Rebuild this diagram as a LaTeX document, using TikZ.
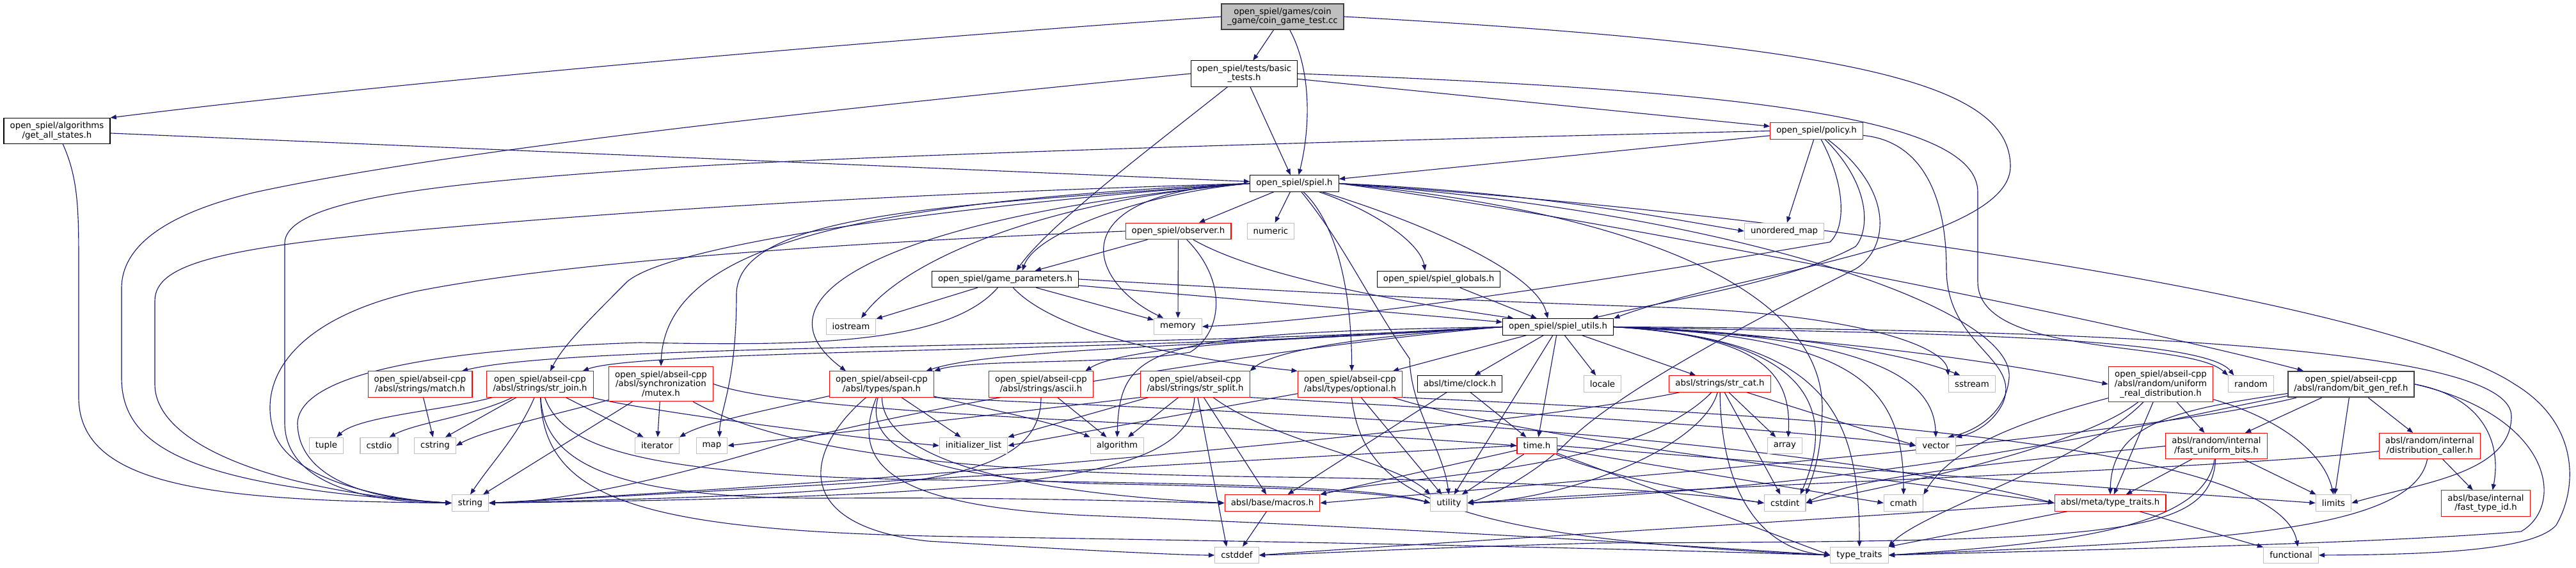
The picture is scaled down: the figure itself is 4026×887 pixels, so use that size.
\documentclass[tikz,border=0pt]{standalone}
\usepackage{fontspec}
\setmainfont{DejaVu Sans}
\usetikzlibrary{arrows.meta,backgrounds}
\definecolor{edgeblue}{HTML}{191970}
\definecolor{sysgrey}{HTML}{BFBFBF}
\definecolor{darkframe}{HTML}{404040}
\definecolor{trunc}{HTML}{FF0000}

\begin{document}
\begin{tikzpicture}[x=0.75pt,y=-0.75pt,
  file/.style={draw=black,fill=white,line width=0.8pt,font=\fontsize{10}{11}\selectfont,
    align=center,inner xsep=7.2pt,inner ysep=1pt,minimum height=19.1pt},
  lines2/.style={minimum height=30.1pt},
  lines3/.style={minimum height=40.9pt},
  sys/.style={file,draw=sysgrey},
  cut/.style={file,draw=trunc},
  root/.style={file,draw=darkframe,fill=sysgrey,line width=1.3pt},
  dep/.style={edgeblue,line width=0.85pt,-{Triangle[length=7pt,width=5.4pt]}}]
  \useasboundingbox (0,0) rectangle (4026,887);

  % Test file and open_spiel headers
  \node[root,lines2] (test) at (2004.5,26) {open\_spiel/games/coin\\\_game/coin\_game\_test.cc};
  \node[file,lines2] (basictests) at (1944.5,115) {open\_spiel/tests/basic\\\_tests.h};
  \node[file,lines2] (allstates) at (89,204.5) {open\_spiel/algorithms\\/get\_all\_states.h};
  \node[cut] (policy) at (2839,204.5) {open\_spiel/policy.h};
  \node[file] (spiel) at (2023,286.5) {open\_spiel/spiel.h};
  \node[cut] (observer) at (1841.5,361) {open\_spiel/observer.h};
  \node[sys] (numeric) at (1986,361) {numeric};
  \node[sys] (unorderedmap) at (2788.6,361) {unordered\_map};
  \node[file] (gameparams) at (1571,436) {open\_spiel/game\_parameters.h};
  \node[file] (globals) at (2248.6,436) {open\_spiel/spiel\_globals.h};
  \node[sys] (iostream) at (1330,510) {iostream};
  \node[sys] (memory) at (1841,510) {memory};
  \node[file] (utils) at (2435,510.5) {open\_spiel/spiel\_utils.h};

  % abseil headers
  \node[cut,lines2] (match) at (656.5,600) {open\_spiel/abseil-cpp\\/absl/strings/match.h};
  \node[cut,lines2] (strjoin) at (844,600) {open\_spiel/abseil-cpp\\/absl/strings/str\_join.h};
  \node[cut,lines3] (mutex) at (1033,599.5) {open\_spiel/abseil-cpp\\/absl/synchronization\\/mutex.h};
  \node[cut,lines2] (span) at (1378,600) {open\_spiel/abseil-cpp\\/absl/types/span.h};
  \node[cut,lines2] (ascii) at (1627,600) {open\_spiel/abseil-cpp\\/absl/strings/ascii.h};
  \node[cut,lines2] (strsplit) at (1868,600) {open\_spiel/abseil-cpp\\/absl/strings/str\_split.h};
  \node[cut,lines2] (optional) at (2110,600) {open\_spiel/abseil-cpp\\/absl/types/optional.h};
  \node[file] (clock) at (2281.6,599.5) {absl/time/clock.h};
  \node[sys] (locale) at (2504.5,599.5) {locale};
  \node[cut] (strcat) at (2688,599.5) {absl/strings/str\_cat.h};
  \node[sys] (sstream) at (3082,599.5) {sstream};
  \node[cut,lines3] (uniformreal) at (3377,600) {open\_spiel/abseil-cpp\\/absl/random/uniform\\\_real\_distribution.h};
  \node[sys] (random) at (3518,599.5) {random};
  \node[file,lines2,draw=darkframe,line width=1.5pt] (bitgenref) at (3674.5,600) {open\_spiel/abseil-cpp\\/absl/random/bit\_gen\_ref.h};

  \node[sys] (tuple) at (510,696) {tuple};
  \node[sys] (cstdio) at (592.5,696) {cstdio};
  \node[sys] (cstring) at (680,696) {cstring};
  \node[sys] (iterator) at (1027,696) {iterator};
  \node[sys] (map) at (1112.5,696) {map};
  \node[sys] (initlist) at (1521.5,696) {initializer\_list};
  \node[sys] (algorithm) at (1746,696) {algorithm};
  \node[cut] (timeh) at (2402,696) {time.h};
  \node[sys] (array) at (2789.4,696) {array};
  \node[sys] (vector) at (3025.5,696) {vector};
  \node[cut,lines2] (fastbits) at (3464,696.6) {absl/random/internal\\/fast\_uniform\_bits.h};
  \node[cut,lines2] (distcaller) at (3797.5,696.6) {absl/random/internal\\/distribution\_caller.h};

  \node[sys] (string) at (735,785.5) {string};
  \node[cut] (macros) at (1988.5,785.5) {absl/base/macros.h};
  \node[sys] (utility) at (2264.4,785.5) {utility};
  \node[sys] (cstdint) at (2789.7,785.5) {cstdint};
  \node[sys] (cmath) at (2975,785.5) {cmath};
  \node[cut] (metatraits) at (3298,785.5) {absl/meta/type\_traits.h};
  \node[sys] (limits) at (3647,785.5) {limits};
  \node[cut,lines2] (fasttypeid) at (3885,786) {absl/base/internal\\/fast\_type\_id.h};

  \node[sys] (cstddef) at (1933,867) {cstddef};
  \node[sys] (typetraits) at (2906,867) {type\_traits};
  \node[sys] (functional) at (3580.5,867) {functional};

  \begin{scope}[on background layer]
  % from the test file
  \draw[dep] (test.west) .. controls (1400,60) and (600,130) .. (allstates.north east);
  \draw[dep] (test) -- (basictests);
  \draw[dep] (test) .. controls (2050,110) and (2048,200) .. ([xshift=5pt]spiel.north);
  \draw[dep] (test.east) .. controls (2900,70) and (3142,130) .. (3142,260) .. controls (3142,380) and (2700,430) .. (utils.north east);

  % get_all_states.h
  \draw[dep] (allstates) -- (spiel);
  \draw[dep] (allstates) .. controls (123,280) and (123,330) .. (123,420) -- (123,620) .. controls (123,760) and (330,782) .. (string.west);

  % basic_tests.h
  \draw[dep] (basictests) -- (spiel);
  \draw[dep] (basictests) .. controls (1800,230) and (1640,350) .. ([xshift=13pt]gameparams.north);
  \draw[dep] (basictests.west) .. controls (1300,170) and (700,235) .. (400,300) .. controls (230,340) and (190,400) .. (190,450) -- (190,590) .. controls (190,700) and (300,760) .. (string.west);
  \draw[dep] (basictests) -- (policy);
  \draw[dep] (basictests.east) .. controls (2700,140) and (3091,180) .. (3091,300) -- (3091,440) .. controls (3091,560) and (3420,530) .. (random.north west);

  % policy.h
  \draw[dep] (policy) -- (spiel);
  \draw[dep] (policy.west) .. controls (2000,222) and (1300,245) .. (1030,263) .. controls (700,285) and (445,310) .. (445,380) -- (445,660) .. controls (445,750) and (560,785) .. (string.west);
  \draw[dep] (policy) -- (unorderedmap);
  \draw[dep] (policy) .. controls (2885,290) and (2885,355) .. (2860,378) .. controls (2500,440) and (2100,500) .. (memory.east);
  \draw[dep] (policy) .. controls (2925,290) and (2922,360) .. (2900,385) .. controls (2800,440) and (2600,470) .. ([xshift=40pt]utils.north);
  \draw[dep] (policy) .. controls (2965,300) and (2950,390) .. (2900,420) .. controls (2700,520) and (2520,620) .. (2450,690) .. controls (2400,740) and (2330,775) .. (utility.east);
  \draw[dep] (policy) .. controls (3000,220) and (3042,300) .. (3042,420) .. controls (3042,540) and (3160,560) .. (3130,630) .. controls (3110,670) and (3070,680) .. (vector.north east);

  % spiel.h
  \draw[dep] (spiel) -- (observer);
  \draw[dep] (spiel) -- (numeric);
  \draw[dep] (spiel.east) .. controls (2400,300) and (2600,340) .. (unorderedmap.west);
  \draw[dep] (spiel.west) .. controls (1800,300) and (1620,360) .. ([xshift=20pt]gameparams.north);
  \draw[dep] (spiel) .. controls (2150,330) and (2220,380) .. ([xshift=-16pt]globals.north);
  \draw[dep] (spiel) .. controls (2200,340) and (2400,420) .. ([xshift=-12pt]utils.north);
  \draw[dep] (spiel.west) .. controls (1650,310) and (1420,400) .. ([xshift=12pt]iostream.north);
  \draw[dep] (spiel.west) .. controls (1650,300) and (1700,440) .. ([xshift=-17pt]memory.north);
  \draw[dep] (spiel.west) .. controls (1500,320) and (1151,330) .. (1151,460) .. controls (1151,600) and (1125,640) .. ([xshift=9pt]map.north);
  \draw[dep] (spiel.west) .. controls (1500,300) and (1100,320) .. (700,355) .. controls (350,385) and (242,410) .. (242,470) -- (242,600) .. controls (242,700) and (450,770) .. (string.west);
  \draw[dep] (spiel.west) .. controls (1500,320) and (1050,380) .. (980,440) .. controls (920,500) and (880,540) .. ([xshift=12pt]strjoin.north);
  \draw[dep] (spiel.west) .. controls (1350,315) and (1040,380) .. (mutex.north);
  \draw[dep] (spiel.west) .. controls (1450,330) and (1150,450) .. ([xshift=-42pt]span.north);
  \draw[dep] (spiel) .. controls (2080,340) and (2112,430) .. ([xshift=2pt]optional.north);
  \draw[dep] (spiel) .. controls (2100,380) and (2140,470) .. (2203,560) .. controls (2205,640) and (2255,700) .. (utility.north);
  \draw[dep] (spiel.east) .. controls (2500,340) and (3300,500) .. ([xshift=-56pt]bitgenref.north);
  \draw[dep] (spiel.east) .. controls (2900,340) and (3750,480) .. (3930,600) .. controls (4030,660) and (4030,760) .. (3995,820) .. controls (3960,860) and (3800,866) .. (functional.east);
  \draw[dep] (spiel.east) .. controls (2700,330) and (3150,480) .. (3140,590) .. controls (3135,650) and (3080,675) .. ([xshift=14pt]vector.north);
  \draw[dep] (spiel.east) .. controls (2550,330) and (2850,450) .. (2848,640) .. controls (2846,720) and (2830,750) .. (cstdint.north east);

  % observer.h
  \draw[dep] (observer.west) .. controls (1400,375) and (900,405) .. (650,455) .. controls (450,500) and (400,600) .. (430,680) .. controls (460,750) and (600,780) .. (string.west);
  \draw[dep] (observer) -- ([xshift=35pt]gameparams.north);
  \draw[dep] (observer) -- (memory);
  \draw[dep] (observer) .. controls (1920,440) and (1910,520) .. (1860,550) .. controls (1750,570) and (1520,560) .. (span.north east);
  \draw[dep] (observer) .. controls (1980,440) and (2250,480) .. ([xshift=-52pt]utils.north);

  % game_parameters.h
  \draw[dep] (gameparams) -- (iostream);
  \draw[dep] (gameparams) -- (memory);
  \draw[dep] (gameparams) -- (utils);
  \draw[dep] (gameparams) .. controls (1640,510) and (1800,555) .. (optional.north west);
  \draw[dep] (gameparams) .. controls (1480,540) and (1250,540) .. (1000,535) .. controls (700,545) and (470,580) .. (465,660) .. controls (465,740) and (560,780) .. (string.west);
  \draw[dep] (gameparams.east) .. controls (2100,460) and (2300,470) .. (2600,480) .. controls (2900,490) and (3040,540) .. (sstream.north west);

  % spiel_globals.h
  \draw[dep] (globals) -- (utils);

  % spiel_utils.h
  \draw[dep] (utils.west) .. controls (1800,545) and (900,535) .. ([xshift=49pt]match.north);
  \draw[dep] (utils.west) .. controls (1800,550) and (1000,545) .. ([xshift=50pt]strjoin.north);
  \draw[dep] (utils.west) .. controls (1900,540) and (1550,545) .. ([xshift=52pt]span.north);
  \draw[dep] (utils.west) .. controls (1950,530) and (1750,545) .. ([xshift=52pt]ascii.north);
  \draw[dep] (utils.west) .. controls (2200,520) and (2000,540) .. (strsplit.north east);
  \draw[dep] (utils) -- ([xshift=50pt]optional.north);
  \draw[dep] (utils) -- (clock);
  \draw[dep] (utils) -- (locale);
  \draw[dep] (utils) -- (strcat);
  \draw[dep] (utils) -- (timeh);
  \draw[dep] (utils) -- (utility);
  \draw[dep] (utils.west) .. controls (2000,540) and (1400,640) .. (1200,700) .. controls (1000,760) and (850,785) .. (string.east);
  \draw[dep] (utils.west) .. controls (1800,520) and (1750,540) .. (algorithm.north);
  \draw[dep] (utils.east) .. controls (2700,515) and (2950,540) .. ([xshift=-14pt]sstream.north);
  \draw[dep] (utils.east) .. controls (2900,530) and (3150,570) .. (uniformreal.west);
  \draw[dep] (utils.east) .. controls (2900,520) and (3440,520) .. ([xshift=-20pt]random.north);
  \draw[dep] (utils.east) .. controls (2750,525) and (2800,580) .. ([xshift=4pt]array.north);
  \draw[dep] (utils.east) .. controls (2800,525) and (2880,620) .. ([xshift=18pt]cstdint.north);
  \draw[dep] (utils.east) .. controls (2900,525) and (2975,600) .. (cmath.north);
  \draw[dep] (utils.east) .. controls (2850,530) and (2906,640) .. (typetraits.north);
  \draw[dep] (utils.east) .. controls (2950,525) and (3022,600) .. (vector.north);
  \draw[dep] (utils.east) .. controls (3500,515) and (3925,560) .. (3925,650) .. controls (3925,740) and (3780,755) .. (limits.east);

  % strings, synchronization and types
  \draw[dep] (match) -- (cstring);
  \draw[dep] (strjoin) .. controls (700,640) and (560,650) .. ([xshift=12pt]tuple.north);
  \draw[dep] (strjoin) .. controls (740,650) and (650,660) .. ([xshift=12pt]cstdio.north);
  \draw[dep] (strjoin) -- ([xshift=12pt]cstring.north);
  \draw[dep] (strjoin) .. controls (810,680) and (770,720) .. (string.north);
  \draw[dep] (strjoin) -- ([xshift=-16pt]iterator.north);
  \draw[dep] (strjoin) .. controls (1000,640) and (1300,680) .. (initlist.west);
  \draw[dep] (strjoin) .. controls (850,720) and (950,780) .. (1300,778) .. controls (1600,776) and (1850,785) .. (macros.west);
  \draw[dep] (strjoin) .. controls (880,700) and (1000,745) .. (1500,750) .. controls (1900,755) and (2150,760) .. (utility.west);
  \draw[dep] (strjoin) .. controls (850,780) and (1000,830) .. (1500,838) .. controls (2300,850) and (2700,862) .. (typetraits.west);

  \draw[dep] (mutex) .. controls (900,640) and (760,670) .. (cstring.east);
  \draw[dep] (mutex) -- ([xshift=15pt]string.north);
  \draw[dep] (mutex) -- (iterator);
  \draw[dep] (mutex.east) .. controls (1250,650) and (1900,660) .. (timeh.west);
  \draw[dep] (mutex) .. controls (1250,720) and (1600,740) .. (2000,745) .. controls (2400,750) and (2650,770) .. (cstdint.west);

  \draw[dep] (span) .. controls (1200,640) and (1100,660) .. (iterator.north east);
  \draw[dep] (span) -- (initlist);
  \draw[dep] (span) .. controls (1550,640) and (1650,660) .. (algorithm.north west);
  \draw[dep] (span) .. controls (1260,700) and (1230,820) .. (1450,845) .. controls (1700,860) and (1850,867) .. (cstddef.west);
  \draw[dep] (span) .. controls (1330,720) and (1380,790) .. (1700,805) .. controls (2200,825) and (2600,850) .. (typetraits.west);
  \draw[dep] (span) .. controls (1350,700) and (1450,745) .. (1700,755) .. controls (1950,760) and (2150,765) .. (utility.west);
  \draw[dep] (span) .. controls (1380,720) and (1600,770) .. (macros.west);
  \draw[dep] (span.south east) .. controls (1800,640) and (2700,660) .. (metatraits.west);

  \draw[dep] (ascii) -- (algorithm);
  \draw[dep] (ascii) .. controls (1627,760) and (1400,770) .. (string.east);

  \draw[dep] (strsplit) -- (initlist.north east);
  \draw[dep] (strsplit.south west) -- (map.east);
  \draw[dep] (strsplit) -- (algorithm);
  \draw[dep] (strsplit) .. controls (1860,750) and (1600,775) .. (string.east);
  \draw[dep] (strsplit) -- ([xshift=-12pt]cstddef.north);
  \draw[dep] (strsplit) -- ([xshift=-7pt]macros.north);
  \draw[dep] (strsplit) .. controls (1990,690) and (2180,720) .. (utility.north west);
  \draw[dep] (strsplit.south east) .. controls (2300,640) and (2800,670) .. (vector.west);

  \draw[dep] (optional) -- (initlist.east);
  \draw[dep] (optional) .. controls (2130,770) and (2250,840) .. (typetraits.west);
  \draw[dep] (optional) -- (utility);
  \draw[dep] (optional) .. controls (2400,690) and (2900,740) .. (metatraits.west);
  \draw[dep] (optional.south east) .. controls (2700,645) and (3560,680) .. ([xshift=8pt]functional.north);

  % time and str_cat
  \draw[dep] (clock) -- ([xshift=18pt]macros.north);
  \draw[dep] (clock) -- (timeh);

  \draw[dep] (strcat) .. controls (2400,660) and (1600,740) .. (string.east);
  \draw[dep] (strcat) .. controls (2660,700) and (2450,780) .. (utility.east);
  \draw[dep] (strcat) .. controls (2690,780) and (2760,860) .. (typetraits.west);
  \draw[dep] (strcat) -- (cstdint);
  \draw[dep] (strcat) -- (array);
  \draw[dep] (strcat) -- (vector.west);
  \draw[dep] (strcat) .. controls (2550,740) and (2200,740) .. (macros.north east);

  \draw[dep] (timeh.west) .. controls (2000,715) and (1000,775) .. (string.east);
  \draw[dep] (timeh) -- (macros.north east);
  \draw[dep] (timeh) -- (utility);
  \draw[dep] (timeh) .. controls (2500,740) and (2650,770) .. (cstdint.west);
  \draw[dep] (timeh) -- (cmath.west);
  \draw[dep] (timeh) -- (typetraits.west);
  \draw[dep] (timeh.east) .. controls (3000,740) and (3400,770) .. (limits.west);

  % random
  \draw[dep] (uniformreal) .. controls (3150,660) and (3050,700) .. (cmath.north east);
  \draw[dep] (uniformreal) .. controls (3250,700) and (2950,760) .. (cstdint.east);
  \draw[dep] (uniformreal) .. controls (3260,720) and (3000,800) .. (typetraits.north east);
  \draw[dep] (uniformreal) -- (metatraits);
  \draw[dep] (uniformreal) -- (fastbits);
  \draw[dep] (uniformreal) .. controls (3550,650) and (3630,700) .. (limits.north);

  \draw[dep] (bitgenref) -- (fastbits);
  \draw[dep] (bitgenref) -- (limits);
  \draw[dep] (bitgenref) -- (distcaller);
  \draw[dep] (bitgenref.east) .. controls (3880,620) and (3910,690) .. ([xshift=8pt]fasttypeid.north);
  \draw[dep] (bitgenref) .. controls (3400,640) and (3300,660) .. (metatraits.north);
  \draw[dep] (bitgenref.east) .. controls (3990,650) and (4010,790) .. (3940,830) .. controls (3700,850) and (3200,860) .. (typetraits.east);
  \draw[dep] (bitgenref) .. controls (3350,660) and (3000,760) .. (utility.east);
  \draw[dep] (bitgenref) .. controls (3350,680) and (2600,740) .. (macros.east);

  \draw[dep] (fastbits.west) .. controls (3100,725) and (2900,745) .. (cstdint.east);
  \draw[dep] (fastbits) -- (metatraits);
  \draw[dep] (fastbits) .. controls (3445,830) and (3200,850) .. (typetraits.east);
  \draw[dep] (fastbits) -- (limits);
  \draw[dep] (fastbits) .. controls (3455,840) and (3300,845) .. (2500,848) .. controls (2200,856) and (2050,865) .. (cstddef.east);

  \draw[dep] ([yshift=-6pt]distcaller.west) .. controls (3450,735) and (2700,755) .. (utility.east);
  \draw[dep] (distcaller) .. controls (3770,840) and (3400,845) .. (typetraits.east);
  \draw[dep] (distcaller) -- (fasttypeid);

  % lowest level
  \draw[dep] (metatraits.west) .. controls (2800,815) and (2200,850) .. (cstddef.east);
  \draw[dep] (metatraits) -- (typetraits.north east);
  \draw[dep] (metatraits) -- (functional);
  \draw[dep] (macros) -- (cstddef);
  \end{scope}
\end{tikzpicture}
\end{document}
